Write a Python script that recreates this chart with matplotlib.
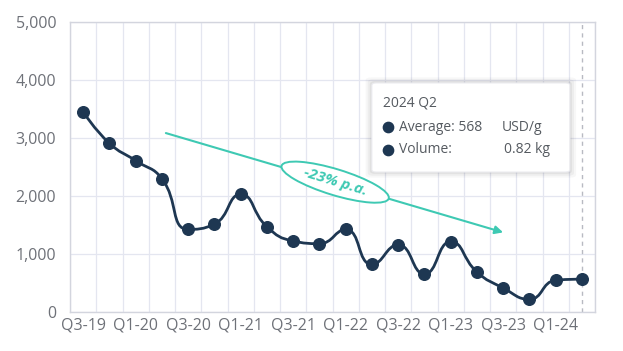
import numpy as np
import matplotlib.pyplot as plt
from matplotlib.path import Path
from matplotlib.patches import PathPatch, FancyBboxPatch, Ellipse
from matplotlib.transforms import IdentityTransform

plt.rcParams['font.family'] = ['Open Sans', 'DejaVu Sans']

quarters = ['Q3-19', 'Q4-19', 'Q1-20', 'Q2-20', 'Q3-20', 'Q4-20', 'Q1-21', 'Q2-21',
            'Q3-21', 'Q4-21', 'Q1-22', 'Q2-22', 'Q3-22', 'Q4-22', 'Q1-23', 'Q2-23',
            'Q3-23', 'Q4-23', 'Q1-24', 'Q2-24']
price = [3450, 2910, 2610, 2300, 1425, 1515, 2030, 1470, 1225, 1180,
         1425, 820, 1160, 655, 1215, 690, 415, 220, 548, 568]
yticks = [0, 1000, 2000, 3000, 4000, 5000]
tooltip_title = '2024 Q2'
tooltip_volume = 0.82
trend_label = '-23% p.a.'
trend_start = (3.05, 3100)
trend_end = (16.1, 1360)
label_pos = (9.6, 2240)

navy = '#1e3752'
teal = '#3ec9b3'
grey = '#6e7178'
grid_c = '#e4e6f0'

fig = plt.figure(figsize=(6.23, 3.51), dpi=100)
ax = fig.add_axes([0.1124, 0.111, 0.8427, 0.826])
ax.set_xlim(-0.5, len(price) - 0.5)
ax.set_ylim(0, 5000)

x = np.arange(len(price))
y = np.array(price, dtype=float)
n = len(x)


def smooth_path(px, py, smooth=0.5):
    """bezier control points like a 'smooth' line, clamped to the neighbour box"""
    verts = [(px[0], py[0])]
    codes = [Path.MOVETO]
    cp0 = (px[0], py[0])
    for i in range(n - 1):
        xi, yi = px[i + 1], py[i + 1]
        if i + 1 == n - 1:
            cp1 = (xi, yi)
            nxt = None
        else:
            pxp, pyp = px[i], py[i]
            nx, ny = px[i + 2], py[i + 2]
            vx, vy = nx - pxp, ny - pyp
            lp = np.hypot(xi - pxp, yi - pyp)
            ln = np.hypot(nx - xi, ny - yi)
            r = ln / (ln + lp)
            ncx = xi + vx * smooth * r
            ncy = yi + vy * smooth * r
            ncx = max(min(ncx, max(nx, xi)), min(nx, xi))
            ncy = max(min(ncy, max(ny, yi)), min(ny, yi))
            vx, vy = ncx - xi, ncy - yi
            c1x = xi - vx * lp / ln
            c1y = yi - vy * lp / ln
            c1x = max(min(c1x, max(pxp, xi)), min(pxp, xi))
            c1y = max(min(c1y, max(pyp, yi)), min(pyp, yi))
            vx, vy = xi - c1x, yi - c1y
            ncx = xi + vx * ln / lp
            ncy = yi + vy * ln / lp
            cp1 = (c1x, c1y)
            nxt = (ncx, ncy)
        verts += [cp0, cp1, (xi, yi)]
        codes += [Path.CURVE4] * 3
        cp0 = nxt
    return verts, codes


# work in screen pixels so the smoothing matches what is seen
to_px = ax.transData
pts = to_px.transform(np.column_stack([x, y]))
verts, codes = smooth_path(pts[:, 0], pts[:, 1])
verts = to_px.inverted().transform(np.array(verts))
ax.add_patch(PathPatch(Path(verts, codes), fill=False, ec=navy, lw=2, zorder=3))
ax.scatter(x, y, s=70, color=navy, zorder=4)

# grid at category boundaries
for b in np.arange(-0.5, n, 1.0):
    ax.axvline(b, color=grid_c, lw=0.9, zorder=0)
for t in yticks:
    ax.axhline(t, color=grid_c, lw=0.9, zorder=0)
ax.axvline(x[-1], color='#b8bac2', lw=1, ls=(0, (3, 3)), zorder=1)

ax.set_yticks(yticks)
ax.set_yticklabels([f'{t:,}' for t in yticks])
ax.set_xticks(x[::2])
ax.set_xticklabels(quarters[::2])
ax.tick_params(length=0, colors=grey, labelsize=11.5, pad=4)
ax.tick_params(axis='y', pad=10)
for s in ax.spines.values():
    s.set_color('#d3d5de')
    s.set_linewidth(1)

# trend arrow and label
ax.annotate('', xy=trend_end, xytext=trend_start,
            arrowprops=dict(arrowstyle='-|>', color=teal, lw=1.5, mutation_scale=12), zorder=2)
cx, cy = ax.transData.transform(label_pos)
ax.add_artist(Ellipse((cx, cy), 112, 26, angle=-17, transform=IdentityTransform(),
                      fc='white', ec=teal, lw=1.4, zorder=5))
ax.text(*label_pos, trend_label, color=teal, fontsize=11, fontweight='bold', style='italic',
        rotation=-17, ha='center', va='center', rotation_mode='anchor', zorder=6)

# tooltip box
bx, by, bw, bh = 0.575, 0.483, 0.377, 0.307
for i, a in enumerate([0.05, 0.04, 0.03]):
    d = 0.004 * (i + 1)
    ax.add_patch(FancyBboxPatch((bx - d, by - d * 1.6), bw + 2 * d, bh + 2 * d * 1.6,
                                boxstyle='round,pad=0,rounding_size=0.01', transform=ax.transAxes,
                                fc='black', ec='none', alpha=a, zorder=6))
ax.add_patch(FancyBboxPatch((bx, by), bw, bh, boxstyle='round,pad=0,rounding_size=0.008',
                            transform=ax.transAxes, fc='white', ec='#ececf0', lw=0.8, zorder=7))
tc = '#555a60'
ax.text(0.596, 0.721, tooltip_title, transform=ax.transAxes, fontsize=10, color=tc, va='center', zorder=8)
ax.scatter([0.606, 0.606], [0.638, 0.559], s=55, color=navy, transform=ax.transAxes, zorder=8, clip_on=False)
ax.text(0.627, 0.638, f'Average: {price[-1]}', transform=ax.transAxes, fontsize=10, color=tc, va='center', zorder=8)
ax.text(0.823, 0.638, 'USD/g', transform=ax.transAxes, fontsize=10, color=tc, va='center', zorder=8)
ax.text(0.627, 0.559, 'Volume:', transform=ax.transAxes, fontsize=10, color=tc, va='center', zorder=8)
ax.text(0.827, 0.559, f'{tooltip_volume} kg', transform=ax.transAxes, fontsize=10, color=tc, va='center', zorder=8)

fig.savefig('out.png', dpi=100)
